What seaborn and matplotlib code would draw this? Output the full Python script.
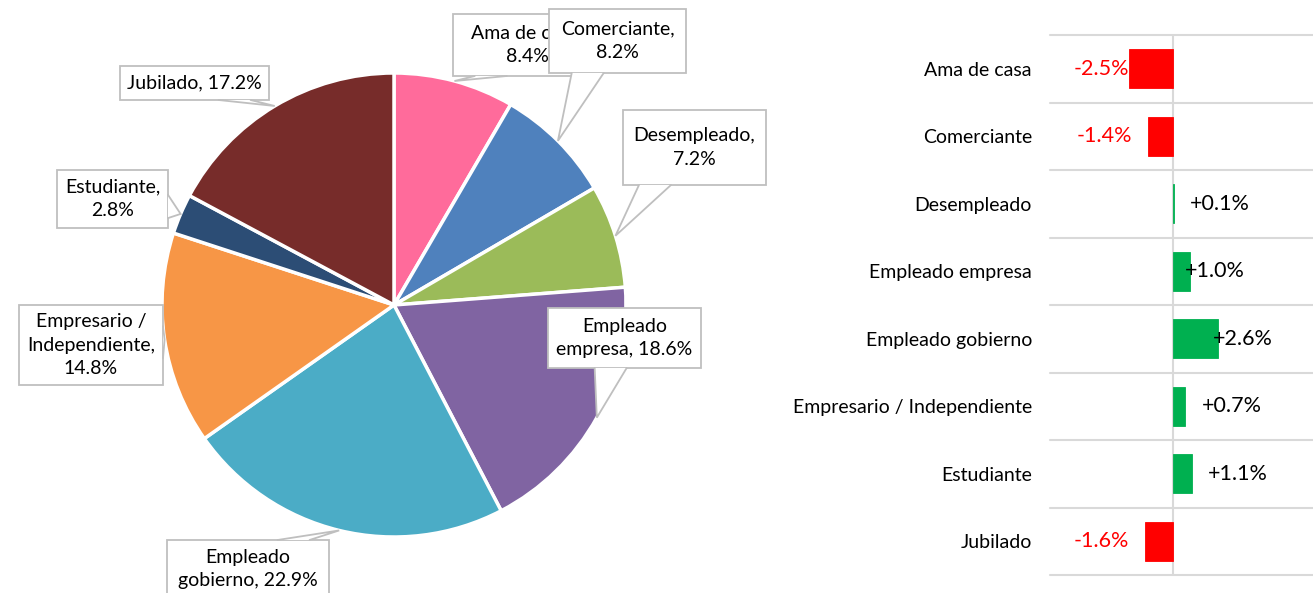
import numpy as np
import matplotlib
matplotlib.use("Agg")
import matplotlib.pyplot as plt
import seaborn as sns
from matplotlib.patches import Rectangle, Polygon

# ---------------- data ----------------
categories = ["Ama de casa", "Comerciante", "Desempleado", "Empleado empresa",
              "Empleado gobierno", "Empresario / Independiente", "Estudiante", "Jubilado"]
share = [8.4, 8.2, 7.2, 18.6, 22.9, 14.8, 2.8, 17.2]
change = [-2.5, -1.4, 0.1, 1.0, 2.6, 0.7, 1.1, -1.6]
pie_label_fmt = ["Ama de casa,\n{}%", "Comerciante,\n{}%", "Desempleado,\n{}%",
                 "Empleado\nempresa, {}%", "Empleado\ngobierno, {}%",
                 "Empresario /\nIndependiente,\n{}%", "Estudiante,\n{}%", "Jubilado, {}%"]

# ---------------- style ----------------
pie_colors = ["#FF6B9B", "#4F81BD", "#9BBB59", "#8064A2", "#4BACC6",
              "#F79646", "#2C4D75", "#772C2A"]
GREEN, RED = "#00B050", "#FF0000"
GRID = "#D9D9D9"
BOXEDGE = "#BFBFBF"

# callout boxes (pixel layout: left, top, right, bottom)
boxes_px = [(453, 14, 601, 76), (549, 9, 686, 73), (623, 110, 766, 185),
            (548, 308, 701, 368), (167, 540, 329, 598), (19, 305, 163, 385),
            (57, 170, 168, 228), (120, 66, 269, 100)]
# bar label nudges in pixels
label_nudge_px = [0, 16, 15, -5, -5, 17, 16, 16]

W, H, DPI = 1313, 593, 100
CX, CY, R = 394, 305, 232

sns.set_theme(style="white")
plt.rcParams["font.family"] = ["Lato", "DejaVu Sans"]

fig = plt.figure(figsize=(W / DPI, H / DPI), dpi=DPI)

# ---------------- pie ----------------
axp = fig.add_axes([0, 0, 1, 1])
axp.set_xlim(-CX / R, (W - CX) / R)
axp.set_ylim(-(H - CY) / R, CY / R)
axp.set_aspect("equal")
axp.axis("off")

wedges, _ = axp.pie(share, colors=pie_colors, startangle=90, counterclock=False,
                    radius=1.0, center=(0, 0),
                    wedgeprops=dict(edgecolor="white", linewidth=2.5))
axp.set_xlim(-CX / R, (W - CX) / R)
axp.set_ylim(-(H - CY) / R, CY / R)


def px2d(px, py):
    return (px - CX) / R, (CY - py) / R


total = sum(share)
cum = 0.0
for i, (v, fmt) in enumerate(zip(share, pie_label_fmt)):
    mid = 90 - (cum + v / 2) / total * 360
    cum += v
    tx, ty = np.cos(np.radians(mid)), np.sin(np.radians(mid))
    l, t, r, b = boxes_px[i]
    x0, y1 = px2d(l, t)
    x1, y0 = px2d(r, b)
    z = 10 + i * 2
    axp.add_patch(Rectangle((x0, y0), x1 - x0, y1 - y0, facecolor="white",
                            edgecolor=BOXEDGE, linewidth=1.3, zorder=z, clip_on=False))
    # pointer
    bw = 32 / R
    if ty < y0 or ty > y1:
        ey = y0 if ty < y0 else y1
        c = 0.5 * (tx + (x0 + x1) / 2)
        c = min(max(c, x0 + bw / 2 + 2 / R), x1 - bw / 2 - 2 / R)
        p1, p2 = (c - bw / 2, ey), (c + bw / 2, ey)
    else:
        ex = x1 if tx > x1 else x0
        bh = min(bw, (y1 - y0) * 0.4)
        c = 0.5 * (ty + (y0 + y1) / 2)
        c = min(max(c, y0 + bh / 2 + 2 / R), y1 - bh / 2 - 2 / R)
        p1, p2 = (ex, c - bh / 2), (ex, c + bh / 2)
    axp.add_patch(Polygon([p1, (tx, ty), p2], closed=True, facecolor="white",
                          edgecolor="none", zorder=z + 0.2, clip_on=False))
    axp.plot([p1[0], tx, p2[0]], [p1[1], ty, p2[1]], color=BOXEDGE, lw=1.3,
             zorder=z + 0.3, solid_joinstyle="miter", clip_on=False)
    axp.text((x0 + x1) / 2, (y0 + y1) / 2, fmt.format(v), ha="center", va="center",
             fontsize=14, color="black", linespacing=1.45, zorder=z + 0.5)

# ---------------- bars ----------------
bl, bt, br, bb = 1050, 35, 1313, 575
axb = fig.add_axes([bl / W, (H - bb) / H, (br - bl) / W, (bb - bt) / H])
bar_colors = [GREEN if v >= 0 else RED for v in change]
sns.barplot(x=change, y=categories, hue=categories, palette=bar_colors,
            orient="h", width=0.58, saturation=1, legend=False, ax=axb, zorder=3)
for p in axb.patches:
    p.set_edgecolor(p.get_facecolor())
    p.set_linewidth(0.6)
xmin, xmax = -7.0, 8.0
axb.set_xlim(xmin, xmax)
axb.set_ylim(len(categories) - 0.5, -0.5)
for k in range(len(categories) + 1):
    axb.axhline(k - 0.5, color=GRID, lw=1.5, zorder=1, clip_on=False)
axb.axvline(0, color=GRID, lw=1.5, zorder=1)
for s in axb.spines.values():
    s.set_visible(False)
axb.set_xticks([])
axb.set_xlabel("")
axb.set_ylabel("")
axb.tick_params(axis="y", length=0, pad=13, labelsize=14)
for lab in axb.get_yticklabels():
    lab.set_color("black")
axb.patch.set_alpha(0)

ppu = (br - bl) / (xmax - xmin)
for i, v in enumerate(change):
    nud = label_nudge_px[i] / ppu
    if v < 0:
        axb.text(v - nud, i, f"{v:.1f}%", ha="right", va="center", color=RED,
                 fontsize=15.5, zorder=5)
    else:
        axb.text(v + nud, i, f"+{v:.1f}%", ha="left", va="center", color="black",
                 fontsize=15.5, zorder=5)

fig.savefig("out.png", dpi=DPI)
